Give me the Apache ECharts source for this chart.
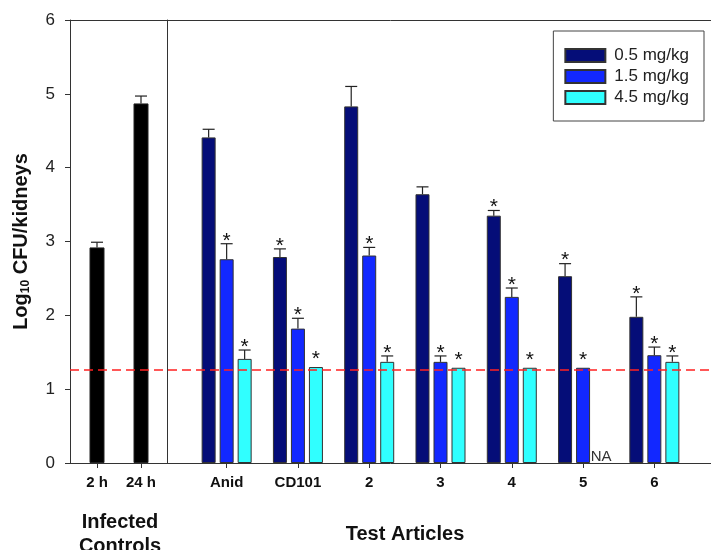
<!DOCTYPE html>
<html>
<head>
<meta charset="utf-8">
<script src="https://cdn.jsdelivr.net/npm/echarts@6/dist/echarts.min.js"></script>
<style>
  html, body { margin: 0; padding: 0; background: #fff; }
  #chart { width: 711px; height: 550px; }
</style>
</head>
<body>
<div id="chart"></div>
<script>
// infected controls
const controlCats = ['2 h', '24 h'];
const controlVals = [2.92, 4.87];
const controlErr = [0.07, 0.10];

// test articles, one array per dose
const articleCats = ['Anid', 'CD101', '2', '3', '4', '5', '6'];
const doseNames = ['0.5 mg/kg', '1.5 mg/kg', '4.5 mg/kg'];
const dose05 = [4.41, 2.79, 4.83, 3.64, 3.35, 2.53, 1.98];
const dose05Err = [0.11, 0.11, 0.27, 0.10, 0.07, 0.17, 0.27];
const dose15 = [2.76, 1.82, 2.81, 1.37, 2.25, 1.29, 1.46];
const dose15Err = [0.21, 0.14, 0.11, 0.08, 0.12, 0, 0.11];
const dose45 = [1.41, 1.30, 1.37, 1.29, 1.29, null, 1.37];
const dose45Err = [0.12, 0, 0.08, 0, 0, null, 0.08];
// 1 = asterisk over the bar
const sig05 = [0, 1, 0, 0, 1, 1, 1];
const sig15 = [1, 1, 1, 1, 1, 1, 1];
const sig45 = [1, 1, 1, 1, 1, 0, 1];
const missing45 = [0, 0, 0, 0, 0, 1, 0]; // NA
const detectionLimit = 1.26;
const yMin = 0, yMax = 6, yStep = 1;

const colors = ['#050d78', '#1228ff', '#30ffff'];
const font = 'Liberation Sans, Arial, sans-serif';

const chart = echarts.init(document.getElementById('chart'));

const TOP = 20, BOTTOM = 87;

// error bar + asterisk + NA, drawn at the bar's slot
function errRender(offset) {
  return function (params, api) {
    const cat = api.value(0);
    const v = api.value(1);
    const e = api.value(2);
    const sig = api.value(3);
    const na = api.value(4);
    const base = api.coord([cat, na ? 0 : v]);
    const x = base[0] + offset;
    const children = [];
    if (na) {
      children.push({
        type: 'text', x: x, y: base[1] + 1,
        style: { text: 'NA', font: '15px ' + font, fill: '#333', align: 'center', verticalAlign: 'bottom' }
      });
      return { type: 'group', children: children };
    }
    const top = api.coord([cat, v + e])[1];
    if (e > 0) {
      children.push({ type: 'line', shape: { x1: x, y1: base[1], x2: x, y2: top }, style: { stroke: '#222', lineWidth: 1.2 } });
      children.push({ type: 'line', shape: { x1: x - 6, y1: top, x2: x + 6, y2: top }, style: { stroke: '#222', lineWidth: 1.2 } });
    }
    if (sig) {
      children.push({
        type: 'text', x: x, y: top - (e > 0 ? 3 : 8),
        style: { text: '*', font: '21px ' + font, fill: '#111', align: 'center', verticalAlign: 'middle' }
      });
    }
    return { type: 'group', children: children };
  };
}

function errData(vals, errs, sigs, nas) {
  return vals.map((v, i) => [i, v == null ? 0 : v, errs[i] == null ? 0 : errs[i], sigs[i], nas ? nas[i] : 0]);
}

const hiddenY = (gi) => ({ gridIndex: gi, type: 'value', min: yMin, max: yMax, interval: yStep, show: false });
const lineOnly = { show: true, lineStyle: { color: '#333', width: 1 } };

const option = {
  backgroundColor: '#fff',
  animation: false,
  textStyle: { fontFamily: font },
  grid: [
    { left: 70, right: 0, top: TOP, bottom: BOTTOM },          // frame
    { left: 167, right: 0, top: TOP, bottom: BOTTOM },         // divider
    { left: 75, width: 88, top: TOP, bottom: BOTTOM },         // controls
    { left: 191, width: 499, top: TOP, bottom: BOTTOM }        // test articles
  ],
  legend: {
    data: doseNames,
    orient: 'vertical',
    right: 7,
    top: 31,
    icon: 'rect',
    itemWidth: 40,
    itemHeight: 13,
    itemGap: 4,
    padding: [16, 15, 15, 11],
    borderColor: '#444',
    borderWidth: 1,
    backgroundColor: '#fff',
    textStyle: { fontSize: 17, color: '#222', fontFamily: font, padding: [0, 0, 0, 4] }
  },
  xAxis: [
    { gridIndex: 0, type: 'value', min: 0, max: 1, axisLine: lineOnly, axisTick: { show: false }, axisLabel: { show: false }, splitLine: { show: false } },
    { gridIndex: 0, type: 'value', position: 'top', min: 0, max: 1, axisLine: lineOnly, axisTick: { show: false }, axisLabel: { show: false }, splitLine: { show: false } },
    { gridIndex: 1, type: 'value', min: 0, max: 1, show: false },
    {
      gridIndex: 2, type: 'category', data: controlCats,
      axisLine: { show: false },
      axisTick: { show: true, alignWithLabel: true, length: 5, lineStyle: { color: '#333' } },
      axisLabel: { fontSize: 15, fontWeight: 'bold', color: '#111', margin: 12 }
    },
    {
      gridIndex: 3, type: 'category', data: articleCats,
      axisLine: { show: false },
      axisTick: { show: true, alignWithLabel: true, length: 5, lineStyle: { color: '#333' } },
      axisLabel: { fontSize: 15, fontWeight: 'bold', color: '#111', margin: 12 }
    }
  ],
  yAxis: [
    {
      gridIndex: 0, type: 'value', min: yMin, max: yMax, interval: yStep,
      axisLine: lineOnly,
      axisTick: { show: true, length: 5, lineStyle: { color: '#333' } },
      axisLabel: { fontSize: 17, color: '#222', margin: 15 },
      splitLine: { show: false },
      name: 'Log{sub|10} CFU/kidneys',
      nameLocation: 'middle',
      nameGap: 38,
      nameTextStyle: {
        fontSize: 20, fontWeight: 'bold', color: '#111',
        rich: { sub: { fontSize: 12, fontWeight: 'bold', color: '#111', padding: [9, 0, 0, 0] } }
      }
    },
    { gridIndex: 1, type: 'value', min: yMin, max: yMax, interval: yStep, axisLine: lineOnly, axisTick: { show: false }, axisLabel: { show: false }, splitLine: { show: false } },
    hiddenY(2),
    hiddenY(3)
  ],
  graphic: [
    { type: 'text', x: 120, y: 510, style: { text: 'Infected\nControls', font: 'bold 20px ' + font, fill: '#111', align: 'center', lineHeight: 24 } },
    { type: 'text', x: 405, y: 524, style: { text: 'Test Articles', font: 'bold 20px ' + font, fill: '#111', align: 'center' } }
  ],
  series: [
    {
      type: 'line', xAxisIndex: 0, yAxisIndex: 0, data: [], silent: true,
      markLine: {
        symbol: 'none', silent: true, label: { show: false },
        lineStyle: { color: '#ff2020', type: [9, 5], width: 1.5 },
        data: [{ yAxis: detectionLimit }]
      }
    },
    {
      name: 'controls', type: 'bar', xAxisIndex: 3, yAxisIndex: 2, data: controlVals, barWidth: 15,
      itemStyle: { color: '#000', borderColor: '#222', borderWidth: 1 }
    },
    {
      type: 'custom', xAxisIndex: 3, yAxisIndex: 2, renderItem: errRender(0),
      data: errData(controlVals, controlErr, [0, 0]), z: 5
    },
    ...[dose05, dose15, dose45].map((vals, k) => ({
      name: doseNames[k], type: 'bar', xAxisIndex: 4, yAxisIndex: 3, data: vals,
      barWidth: 14, barGap: '28.6%',
      itemStyle: { color: colors[k], borderColor: '#333', borderWidth: 1 }
    })),
    ...[[dose05, dose05Err, sig05, null], [dose15, dose15Err, sig15, null], [dose45, dose45Err, sig45, missing45]].map((d, k) => ({
      type: 'custom', xAxisIndex: 4, yAxisIndex: 3, z: 5,
      renderItem: errRender((k - 1) * 18),
      data: errData(d[0], d[1], d[2], d[3])
    }))
  ]
};

chart.setOption(option);
</script>
</body>
</html>
